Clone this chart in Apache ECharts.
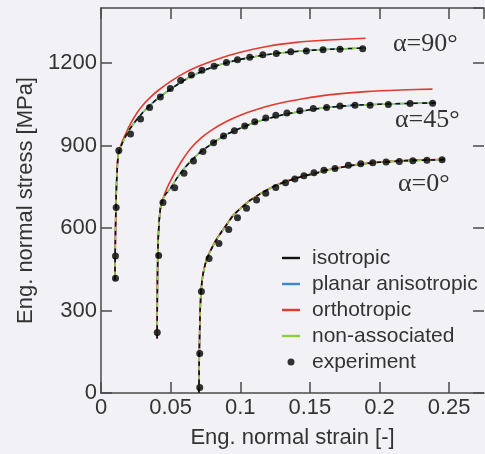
<!DOCTYPE html>
<html>
<head>
<meta charset="utf-8">
<script src="https://cdn.jsdelivr.net/npm/echarts@6/dist/echarts.min.js"></script>
<style>
html,body{margin:0;padding:0;background:#f2f2f6;}
#c{width:485px;height:454px;}
</style>
</head>
<body>
<div id="c"></div>
<script>
// ---- data ----
const xTicks = [0, 0.05, 0.1, 0.15, 0.2, 0.25];
const yTicks = [0, 300, 600, 900, 1200];
const seriesNames = ['isotropic', 'planar anisotropic', 'orthotropic', 'non-associated', 'experiment'];
const angleLabels = ['α=90°', 'α=45°', 'α=0°'];

const exp90 = [[0.0104,417],[0.0104,498],[0.0109,675],[0.0128,882],[0.0212,942],[0.0284,996],[0.0349,1038],[0.0426,1076],[0.0498,1107],[0.0572,1136],[0.0649,1156],[0.0725,1174],[0.0812,1188],[0.0901,1202],[0.0980,1212],[0.1068,1221],[0.1162,1230],[0.1259,1235],[0.1363,1241],[0.1475,1244],[0.1594,1248],[0.1716,1250],[0.1879,1252]];
const exp45 = [[0.0404,220],[0.0414,500],[0.0445,693],[0.0529,746],[0.0596,799],[0.0664,844],[0.0732,878],[0.0808,910],[0.0880,935],[0.0958,954],[0.1032,971],[0.1104,986],[0.1183,1000],[0.1255,1010],[0.1335,1018],[0.1428,1026],[0.1524,1035],[0.1620,1038],[0.1716,1044],[0.1824,1046],[0.1932,1046],[0.2063,1049],[0.2219,1053],[0.2381,1054]];
const exp0 = [[0.0709,20],[0.0709,144],[0.0721,369],[0.0776,489],[0.0847,544],[0.0917,595],[0.0980,637],[0.1045,672],[0.1117,702],[0.1183,726],[0.1255,747],[0.1325,765],[0.1392,778],[0.1457,790],[0.1529,801],[0.1601,810],[0.1680,816],[0.1776,828],[0.1865,834],[0.1951,837],[0.2047,840],[0.2142,842],[0.2239,845],[0.2340,846],[0.2449,848]];

const iso90 = [[0.0100,410],[0.0103,550],[0.0108,700],[0.0115,800],[0.0125,870],[0.015,905],[0.02,955],[0.025,990],[0.03,1020],[0.035,1045],[0.04,1068],[0.05,1105],[0.06,1138],[0.07,1164],[0.08,1185],[0.09,1201],[0.10,1213],[0.11,1223],[0.12,1231],[0.13,1237],[0.14,1242],[0.15,1246],[0.16,1249],[0.17,1251],[0.18,1253],[0.19,1254]];
const ortho90 = [[0.0100,410],[0.0103,550],[0.0108,700],[0.0115,810],[0.0125,870],[0.015,912],[0.017,935],[0.02,968],[0.025,1012],[0.03,1046],[0.035,1073],[0.041,1100],[0.05,1133],[0.06,1164],[0.07,1188],[0.083,1213],[0.10,1239],[0.12,1261],[0.14,1275],[0.16,1283],[0.19,1290]];

const iso45 = [[0.0403,198],[0.0405,400],[0.041,550],[0.042,640],[0.0433,690],[0.046,720],[0.05,745],[0.055,785],[0.06,818],[0.065,846],[0.07,870],[0.075,890],[0.08,908],[0.09,940],[0.10,963],[0.11,983],[0.12,998],[0.13,1011],[0.14,1021],[0.15,1030],[0.16,1037],[0.17,1042],[0.18,1046],[0.20,1050],[0.22,1053],[0.24,1055]];
const ortho45 = [[0.0403,198],[0.0405,400],[0.041,550],[0.042,640],[0.043,680],[0.046,728],[0.049,762],[0.054,810],[0.059,852],[0.065,893],[0.073,932],[0.08,958],[0.09,987],[0.10,1010],[0.11,1028],[0.125,1050],[0.145,1070],[0.165,1085],[0.19,1096],[0.215,1102],[0.238,1105]];

const iso0 = [[0.0703,0],[0.0706,150],[0.0712,300],[0.072,380],[0.0732,430],[0.0755,480],[0.078,510],[0.082,550],[0.0853,576],[0.09,610],[0.0948,645],[0.10,670],[0.107,700],[0.114,723],[0.121,743],[0.128,760],[0.136,774],[0.145,788],[0.155,800],[0.16,808],[0.17,818],[0.18,827],[0.19,834],[0.20,839],[0.21,842],[0.22,845],[0.235,847],[0.247,849]];
const ortho0 = [[0.0703,0],[0.0706,150],[0.0712,300],[0.072,380],[0.0732,432],[0.0755,482],[0.078,512],[0.082,552],[0.0853,578],[0.09,612],[0.0948,646],[0.10,671],[0.107,701],[0.114,724],[0.121,744],[0.128,761],[0.136,775],[0.145,789],[0.155,801],[0.16,809],[0.17,819],[0.18,828],[0.19,835],[0.20,840],[0.21,843],[0.22,846],[0.235,848],[0.247,850]];

const models = [
  {iso: iso90, planar: iso90, ortho: ortho90, nonassoc: iso90, exp: exp90},
  {iso: iso45, planar: iso45, ortho: ortho45, nonassoc: iso45, exp: exp45},
  {iso: iso0,  planar: iso0,  ortho: ortho0,  nonassoc: iso0,  exp: exp0}
];

// ---- styles ----
const C_ISO = '#111111', C_PLANAR = '#3d85d6', C_ORTHO = '#e23a2e', C_NON = '#8fcf3c';
const AX = '#4a4a4a', TXT = '#333333';
const linePath = 'path://M0,0 L18,0 L18,2.4 L0,2.4 Z';
const SM = 0.2;

const series = [];
models.forEach(m => {
  series.push({name: seriesNames[1], type:'line', data: m.planar, showSymbol:false, symbol:'none', z:2, smooth:SM,
    lineStyle:{color:C_PLANAR, width:1.6}, itemStyle:{color:C_PLANAR}});
  series.push({name: seriesNames[2], type:'line', data: m.ortho, showSymbol:false, symbol:'none', z:3, smooth:SM,
    lineStyle:{color:C_ORTHO, width:1.6}, itemStyle:{color:C_ORTHO}});
  series.push({name: seriesNames[0], type:'line', data: m.iso, showSymbol:false, symbol:'none', z:4, smooth:SM,
    lineStyle:{color:C_ISO, width:1.6, type:[5,4]}, itemStyle:{color:C_ISO}});
  series.push({name: seriesNames[3], type:'line', data: m.nonassoc, showSymbol:false, symbol:'none', z:5, smooth:SM,
    lineStyle:{color:C_NON, width:1.6, type:[4,5], dashOffset:4.5}, itemStyle:{color:C_NON}});
  series.push({name: seriesNames[4], type:'scatter', data: m.exp, symbol:'circle', symbolSize:7, z:6,
    itemStyle:{color:'#000000'}});
});

const chart = echarts.init(document.getElementById('c'), null, {renderer:'canvas'});
const axisCommon = {
  axisTick:{show:true, inside:true, length:11, lineStyle:{color:AX, width:1.5}},
  splitLine:{show:false}
};
const lineOn = {show:true, onZero:false, lineStyle:{color:AX, width:1.5}};
chart.setOption({
  backgroundColor:'#f2f2f6',
  animation:false,
  grid:{left:101, right:1, top:8, bottom:57, containLabel:false},
  xAxis:[
    Object.assign({type:'value', position:'bottom', min:0, max:0.275, interval:0.05, axisLine:lineOn,
      name:'Eng. normal strain [-]', nameLocation:'middle', nameGap:34,
      nameTextStyle:{fontFamily:'Liberation Sans', fontSize:22, color:TXT},
      axisLabel:{show:true, margin:4, fontFamily:'Liberation Sans', fontSize:22, color:TXT, showMaxLabel:false,
        formatter: v => (xTicks.some(t => Math.abs(t - v) < 1e-9) ? String(+v.toFixed(2)) : '')}}, axisCommon),
    Object.assign({type:'value', position:'top', min:0, max:0.275, interval:0.05, axisLine:lineOn, axisLabel:{show:false}}, axisCommon)
  ],
  yAxis:[
    Object.assign({type:'value', position:'left', min:0, max:1400, interval:300, axisLine:lineOn,
      name:'Eng. normal stress [MPa]', nameLocation:'middle', nameGap:62, nameRotate:90,
      nameTextStyle:{fontFamily:'Liberation Sans', fontSize:22, color:TXT},
      axisLabel:{show:true, margin:4, fontFamily:'Liberation Sans', fontSize:22, color:TXT, showMaxLabel:false,
        formatter: v => (yTicks.indexOf(v) >= 0 ? String(v) : '')}}, axisCommon),
    Object.assign({type:'value', position:'right', min:0, max:1400, interval:300,
      axisLine:{show:false, onZero:false}, axisLabel:{show:false}}, axisCommon)
  ],
  legend:{
    orient:'vertical', left:277, top:242, itemWidth:18, itemHeight:7, itemGap:4,
    textStyle:{fontFamily:'Liberation Sans', fontSize:21, lineHeight:22, color:TXT, padding:[0,0,0,7]},
    data:[
      {name:seriesNames[0], icon:linePath},
      {name:seriesNames[1], icon:linePath},
      {name:seriesNames[2], icon:linePath},
      {name:seriesNames[3], icon:linePath},
      {name:seriesNames[4], icon:'circle'}
    ]
  },
  graphic:[
    {type:'text', left:393, top:31, style:{text:angleLabels[0], font:'26px "Liberation Serif"', fill:TXT}},
    {type:'text', left:395, top:107, style:{text:angleLabels[1], font:'26px "Liberation Serif"', fill:TXT}},
    {type:'text', left:398, top:171, style:{text:angleLabels[2], font:'26px "Liberation Serif"', fill:TXT}}
  ],
  series: series
});
</script>
</body>
</html>
